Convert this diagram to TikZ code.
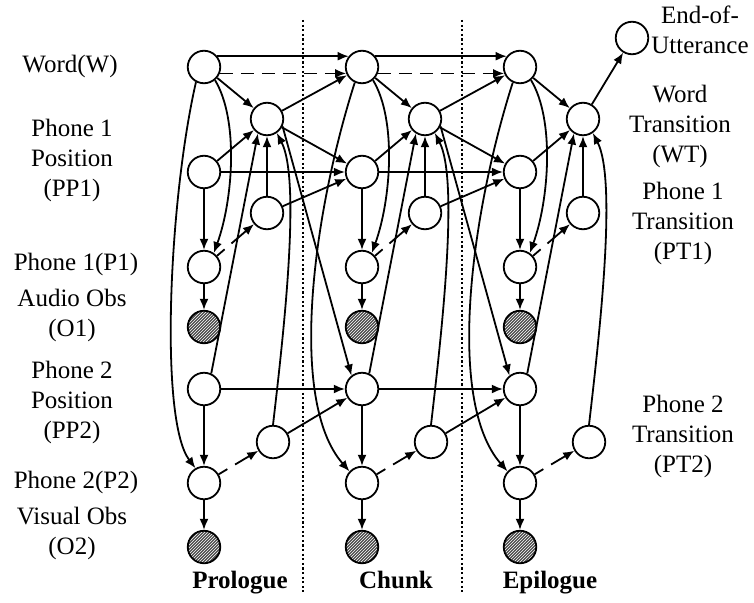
\documentclass[tikz,border=0pt]{standalone}
\usepackage{fontspec}
\setmainfont{Liberation Serif}
\usetikzlibrary{arrows.meta,patterns,calc}
\begin{document}
\begin{tikzpicture}[x=1pt,y=1pt,
  lab/.style={inner sep=0pt, outer sep=0pt, align=center, font=\fontsize{25}{30}\selectfont},
  blab/.style={inner sep=0pt, outer sep=0pt, anchor=base, font=\fontsize{25}{30}\selectfont\bfseries},
  var/.style={circle, draw, line width=1.8pt, minimum size=32.5pt, inner sep=0pt, fill=white},
  obs/.style={circle, draw, line width=1.8pt, minimum size=32.5pt, inner sep=0pt,
              preaction={fill=black!70}, pattern=north east lines, pattern color=white},
  edge/.style={line width=1.8pt, -{Latex[length=11pt,width=9pt]}},
  dashedge/.style={edge, dash pattern=on 10pt off 9pt on 100pt off 1pt},
  dashW/.style={edge, dash pattern=on 13pt off 8pt},
  sep/.style={line width=1.7pt, dash pattern=on 2.2pt off 2.4pt}]
\useasboundingbox (0,0) rectangle (754,-602);
\fill[white] (0,0) rectangle (754,-602);
% separators
\draw[sep] (303,-20) -- (303,-592);
\draw[sep] (462,-20) -- (462,-592);
% nodes
\foreach \c/\xx in {a/204, b/362, c/520} {
  \begin{scope}[xshift=\xx pt]
    \node[var] (W\c)   at (0,-67)  {};
    \node[var] (WT\c)  at (63,-119) {};
    \node[var] (PP1\c) at (0,-172) {};
    \node[var] (PT1\c) at (63,-213) {};
    \node[var] (P1\c)  at (0,-267) {};
    \node[obs] (O1\c)  at (0,-327) {};
    \node[var] (PP2\c) at (0,-389) {};
    \node[var] (PT2\c) at (69,-442) {};
    \node[var] (P2\c)  at (0,-483) {};
    \node[obs] (O2\c)  at (0,-547) {};
    % intra-slice edges
    \draw[edge] (W\c) -- (WT\c);
    \draw[edge] (PP1\c) -- (WT\c);
    \draw[edge] (PT1\c) -- (WT\c);
    \draw[edge] (PP2\c.65) -- (WT\c.-122);
    \draw[edge] (PT2\c.north) .. controls (80,-330) and (97,-180) .. (WT\c.-55);
    \draw[edge] (W\c.-50) .. controls (35,-120) and (29,-200) .. (P1\c.55);
    \draw[edge] (PP1\c) -- (P1\c);
    \draw[edge] (P1\c) -- (O1\c);
    \draw[edge] (PP2\c) -- (P2\c);
    \draw[edge] (P2\c) -- (O2\c);
    \draw[dashedge] (P1\c) -- (PT1\c);
    \draw[dashedge] (P2\c) -- (PT2\c);
  \end{scope}
}
\node[var] (EoU) at (632,-38) {};
% word to phone 2
\begin{scope}[xshift=204pt]
  \draw[edge] (Wa.-118) .. controls (-35,-200) and (-45,-420) .. (P2a.120);
\end{scope}
\begin{scope}[xshift=362pt]
  \draw[edge] (Wb.-115) .. controls (-48,-210) and (-75,-400) .. (P2b.137);
\end{scope}
\begin{scope}[xshift=520pt]
  \draw[edge] (Wc.-115) .. controls (-48,-210) and (-75,-400) .. (P2c.137);
\end{scope}
% inter-slice edges
\foreach \p/\n in {a/b, b/c} {
  \draw[edge] (W\p.39) -- (W\n.141);
  \draw[dashW] (W\p.-22) -- (W\n.-158);
  \draw[edge] (WT\p) -- (W\n);
  \draw[edge] (WT\p) -- (PP1\n);
  \draw[edge] (WT\p.-25) -- (PP2\n.128);
  \draw[edge] (PP1\p) -- (PP1\n);
  \draw[edge] (PT1\p) -- (PP1\n);
  \draw[edge] (PP2\p) -- (PP2\n);
  \draw[edge] (PT2\p) -- (PP2\n);
}
\draw[edge] (WTc) -- (EoU);
% labels
\node[lab] (lW)   at (70,-66)  {Word(W)};
\node[lab] (lPP1) at (72,-160) {Phone 1\\Position\\(PP1)};
\node[lab] (lP1)  at (76,-264) {Phone 1(P1)};
\node[lab] (lO1)  at (72,-315) {Audio Obs\\(O1)};
\node[lab] (lPP2) at (72,-402) {Phone 2\\Position\\(PP2)};
\node[lab] (lP2)  at (76,-482) {Phone 2(P2)};
\node[lab] (lO2)  at (72,-533) {Visual Obs\\(O2)};
\node[lab] (lEoU) at (700,-30) {End-of-\\Utterance};
\node[lab] (lWT)  at (680,-126) {Word\\Transition\\(WT)};
\node[lab] (lPT1) at (683,-223) {Phone 1\\Transition\\(PT1)};
\node[lab] (lPT2) at (683,-436) {Phone 2\\Transition\\(PT2)};
\node[blab] (lPro) at (240,-588) {Prologue};
\node[blab] (lChk) at (396,-588) {Chunk};
\node[blab] (lEpi) at (550,-588) {Epilogue};
\end{tikzpicture}
\end{document}
